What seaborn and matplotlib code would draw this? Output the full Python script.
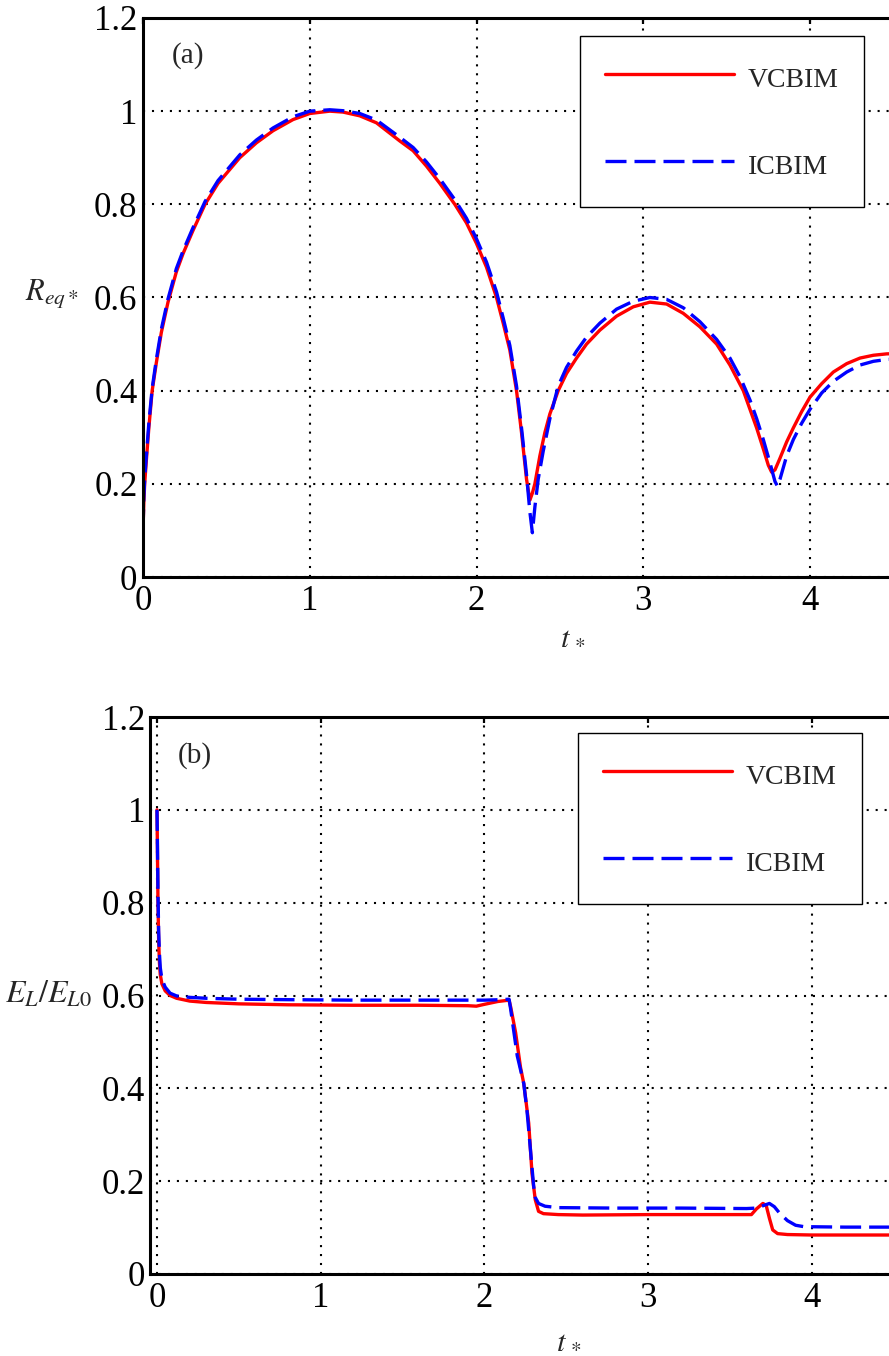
import numpy as np
import pandas as pd
import matplotlib
matplotlib.use("Agg")
import matplotlib.pyplot as plt
import seaborn as sns

# ---------------- data ----------------
# (a) equivalent radius, VCBIM
t_a_vc = [0, 0.005, 0.01, 0.02, 0.035, 0.055, 0.08, 0.11, 0.15, 0.2, 0.24, 0.3, 0.372,
          0.45, 0.58, 0.68, 0.78, 0.9, 1.0, 1.12, 1.2, 1.3, 1.4, 1.54, 1.62, 1.7, 1.78,
          1.87, 1.94, 2.0, 2.06, 2.12, 2.16, 2.2, 2.24, 2.27, 2.3, 2.32, 2.335, 2.35,
          2.38, 2.41, 2.44, 2.49, 2.54, 2.6, 2.66, 2.74, 2.84, 2.94, 3.04, 3.14, 3.24,
          3.34, 3.44, 3.52, 3.6, 3.64, 3.68, 3.72, 3.75, 3.77, 3.79, 3.82, 3.86, 3.9,
          3.95, 4.0, 4.07, 4.14, 4.22, 4.3, 4.38, 4.46, 4.55]
r_vc = [0.10, 0.16, 0.20, 0.25, 0.32, 0.40, 0.46, 0.525, 0.59, 0.655, 0.694, 0.744, 0.80,
        0.845, 0.90, 0.932, 0.958, 0.982, 0.995, 1.0, 0.998, 0.99, 0.975, 0.936, 0.915,
        0.882, 0.845, 0.80, 0.76, 0.716, 0.665, 0.60, 0.545, 0.487, 0.40, 0.31, 0.21,
        0.165, 0.18, 0.20, 0.26, 0.31, 0.35, 0.40, 0.437, 0.47, 0.50, 0.53, 0.56, 0.58,
        0.59, 0.586, 0.566, 0.537, 0.50, 0.455, 0.40, 0.36, 0.32, 0.275, 0.24, 0.225,
        0.23, 0.255, 0.29, 0.32, 0.355, 0.386, 0.415, 0.44, 0.458, 0.47, 0.476, 0.479,
        0.48]

# (a) equivalent radius, ICBIM
t_a_ic = [0, 0.005, 0.01, 0.02, 0.035, 0.055, 0.08, 0.11, 0.15, 0.2, 0.24, 0.3, 0.372,
          0.45, 0.58, 0.68, 0.78, 0.9, 1.0, 1.12, 1.2, 1.3, 1.4, 1.54, 1.62, 1.7, 1.78,
          1.87, 1.94, 2.0, 2.06, 2.12, 2.16, 2.2, 2.24, 2.27, 2.3, 2.32, 2.335, 2.35,
          2.37, 2.4, 2.44, 2.49, 2.54, 2.6, 2.66, 2.74, 2.84, 2.94, 3.04, 3.14, 3.24,
          3.34, 3.44, 3.52, 3.58, 3.64, 3.68, 3.72, 3.76, 3.79, 3.805, 3.82, 3.86, 3.9,
          3.95, 4.0, 4.07, 4.14, 4.22, 4.3, 4.38, 4.46, 4.55]
r_ic = [0.10, 0.17, 0.21, 0.26, 0.33, 0.405, 0.467, 0.532, 0.597, 0.662, 0.70, 0.75, 0.806,
        0.851, 0.906, 0.938, 0.964, 0.988, 1.0, 1.003, 1.001, 0.995, 0.981, 0.944, 0.922,
        0.891, 0.855, 0.81, 0.77, 0.726, 0.676, 0.612, 0.556, 0.497, 0.41, 0.32, 0.22,
        0.14, 0.095, 0.15, 0.21, 0.27, 0.34, 0.41, 0.45, 0.485, 0.515, 0.545, 0.575, 0.592,
        0.60, 0.596, 0.578, 0.548, 0.51, 0.47, 0.43, 0.38, 0.34, 0.295, 0.245, 0.205,
        0.195, 0.21, 0.26, 0.295, 0.33, 0.36, 0.395, 0.42, 0.44, 0.455, 0.463, 0.467,
        0.468]

# (b) energy ratio, VCBIM
t_b_vc = [0, 0.003, 0.006, 0.01, 0.015, 0.02, 0.03, 0.05, 0.08, 0.12, 0.2, 0.3, 0.5, 0.8,
          1.2, 1.6, 1.9, 1.95, 2.0, 2.08, 2.15, 2.16, 2.19, 2.22, 2.24, 2.27, 2.29, 2.31,
          2.33, 2.36, 2.45, 2.6, 3.0, 3.4, 3.63, 3.66, 3.7, 3.72, 3.74, 3.76, 3.79, 3.85,
          4.0, 4.5, 4.55]
e_vc = [1.0, 0.9, 0.8, 0.72, 0.67, 0.645, 0.625, 0.61, 0.60, 0.594, 0.588, 0.585, 0.582,
        0.580, 0.579, 0.579, 0.578, 0.577, 0.581, 0.587, 0.59, 0.575, 0.52, 0.445, 0.41,
        0.325, 0.217, 0.16, 0.135, 0.13, 0.128, 0.127, 0.128, 0.128, 0.128, 0.14, 0.152,
        0.148, 0.12, 0.095, 0.087, 0.085, 0.084, 0.084, 0.084]

# (b) energy ratio, ICBIM
t_b_ic = [0, 0.003, 0.006, 0.01, 0.015, 0.02, 0.03, 0.05, 0.08, 0.12, 0.2, 0.3, 0.5, 0.8,
          1.2, 1.6, 2.0, 2.1, 2.15, 2.16, 2.18, 2.2, 2.22, 2.24, 2.26, 2.28, 2.3, 2.31,
          2.33, 2.37, 2.45, 2.8, 3.2, 3.6, 3.66, 3.7, 3.74, 3.77, 3.8, 3.85, 3.9, 3.95,
          4.2, 4.55]
e_ic = [1.0, 0.92, 0.82, 0.74, 0.69, 0.66, 0.635, 0.618, 0.605, 0.599, 0.596, 0.594, 0.592,
        0.591, 0.59, 0.59, 0.59, 0.591, 0.592, 0.57, 0.52, 0.47, 0.44, 0.41, 0.35, 0.27,
        0.19, 0.165, 0.152, 0.146, 0.143, 0.142, 0.142, 0.141, 0.142, 0.147, 0.152, 0.145,
        0.132, 0.115, 0.105, 0.102, 0.101, 0.101]

series_labels = ["VCBIM", "ICBIM"]
x_ticks = [0, 1, 2, 3, 4]
y_ticks = [0, 0.2, 0.4, 0.6, 0.8, 1.0, 1.2]
y_ticklabels = ["0", "0.2", "0.4", "0.6", "0.8", "1", "1.2"]

# ---------------- style ----------------
sns.set_style("white")
plt.rcParams["font.family"] = ["Liberation Serif", "DejaVu Serif"]
plt.rcParams["mathtext.fontset"] = "stix"

W, H = 889, 1356
fig = plt.figure(figsize=(W / 100, H / 100), dpi=100)
fig.patch.set_facecolor("white")

# axes in pixel geometry (axes extend beyond right edge, as in the cropped reference)
def px_axes(left, top, right, bottom):
    return fig.add_axes([left / W, 1 - bottom / H, (right - left) / W, (bottom - top) / H])

ax1 = px_axes(143, 18, 143 + 5 * 166.75, 577)
ax2 = px_axes(157 - 0.04 * 163.75, 717, 157 + 5 * 163.75, 1274)

red = "#ff0000"
blue = "#0000ff"
LW = 2.4
DASH = [6.3, 2.4]

def draw(ax, t1, y1, t2, y2):
    d1 = pd.DataFrame({"t": t1, "v": y1})
    d2 = pd.DataFrame({"t": t2, "v": y2})
    sns.lineplot(data=d1, x="t", y="v", ax=ax, color=red, lw=LW, label=series_labels[0],
                 estimator=None, sort=False)
    sns.lineplot(data=d2, x="t", y="v", ax=ax, color=blue, lw=LW, label=series_labels[1],
                 estimator=None, sort=False, ls="--")
    ax.lines[-1].set_dashes(DASH)

draw(ax1, t_a_vc, r_vc, t_a_ic, r_ic)
draw(ax2, t_b_vc, e_vc, t_b_ic, e_ic)

ax1.set_xlim(0, 5)
ax2.set_xlim(-0.04, 5)

for ax in (ax1, ax2):
    ax.set_ylim(0, 1.2)
    ax.set_xticks(x_ticks)
    ax.set_xticklabels([str(v) for v in x_ticks])
    ax.set_yticks(y_ticks)
    ax.set_yticklabels(y_ticklabels)
    ax.set_axisbelow(True)
    ax.grid(True, color="black", linestyle=(0, (1, 3.3)), lw=1.5)
    ax.tick_params(direction="in", length=4.5, width=1.6, top=True, right=True,
                   labelsize=25, colors="black")
    ax.tick_params(axis="x", pad=6)
    ax.tick_params(axis="y", pad=4)
    for s in ax.spines.values():
        s.set_visible(True)
        s.set_linewidth(2.2)
        s.set_color("black")
    ax.set_facecolor("white")

# labels
ax1.set_xlabel(r"$t_{\,*}$", fontsize=22)
ax1.xaxis.set_label_coords(0.515, -0.106)
ax1.xaxis.label.set_va("center")
ax1.set_ylabel(r"$R_{eq*}$", fontsize=22, rotation=0, ha="right", va="center")
ax1.yaxis.set_label_coords(-0.078, 0.507)

ax2.set_xlabel(r"$t_{\,*}$", fontsize=22)
ax2.xaxis.set_label_coords(0.507, -0.119)
ax2.xaxis.label.set_va("center")
ax2.set_ylabel(r"$E_L/E_{L0}$", fontsize=23, rotation=0, ha="right", va="center")
ax2.yaxis.set_label_coords(-0.0714, 0.502)

ax1.text(0.0348, 0.932, "(a)", transform=ax1.transAxes, fontsize=21, ha="left", va="center")
ax2.text(0.0327, 0.930, "(b)", transform=ax2.transAxes, fontsize=21, ha="left", va="center")

# legends
for ax, (lx, ly) in ((ax1, (580, 36)), (ax2, (578, 733))):
    leg = ax.legend(loc="upper left", bbox_to_anchor=(lx / W, 1 - ly / H),
                    bbox_transform=fig.transFigure, fontsize=20, frameon=True,
                    fancybox=False, edgecolor="black", framealpha=1, borderpad=0.9,
                    handlelength=4.65, handleheight=1.5, handletextpad=0.5,
                    labelspacing=1.9, borderaxespad=0)
    leg.get_frame().set_linewidth(1.0)

fig.savefig("out.png", dpi=100, facecolor="white")
